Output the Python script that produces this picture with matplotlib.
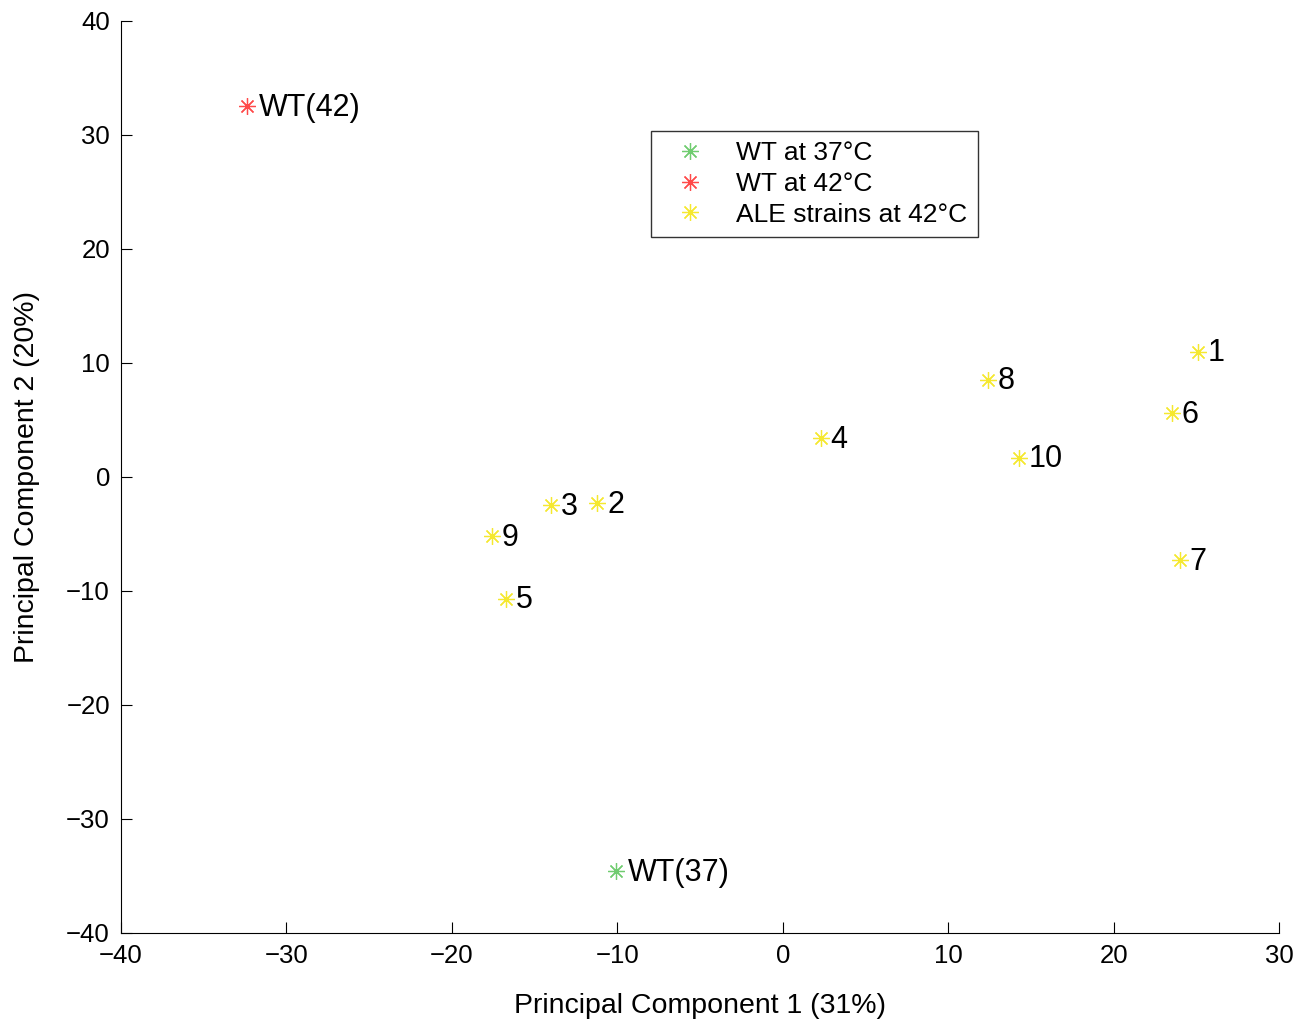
import numpy as np
import matplotlib
matplotlib.use("Agg")
import matplotlib.pyplot as plt

plt.rcParams['font.family'] = ['Liberation Sans', 'DejaVu Sans']

# ALE strains at 42C
ale_labels = ['1', '2', '3', '4', '5', '6', '7', '8', '9', '10']
ale_x = [25.1, -11.2, -14.0, 2.3, -16.7, 23.5, 24.0, 12.4, -17.6, 14.3]
ale_y = [11.0, -2.3, -2.5, 3.4, -10.7, 5.6, -7.3, 8.5, -5.2, 1.7]

# wild type
wt37_x, wt37_y = [-10.1], [-34.6]
wt42_x, wt42_y = [-32.4], [32.5]

green = '#70cc70'
red = '#ff4a4a'
yellow = '#f5e830'
star = (8, 2, 0)

fig = plt.figure(figsize=(13.07, 10.23), dpi=100)
ax = fig.add_axes([0.0926, 0.088, 0.886, 0.8915])

kw = dict(linestyle='none', marker=star, markersize=12, markeredgewidth=0.9)
ax.plot(wt37_x, wt37_y, color=green, label='WT at 37°C', **kw)
ax.plot(wt42_x, wt42_y, color=red, label='WT at 42°C', **kw)
ax.plot(ale_x, ale_y, color=yellow, label='ALE strains at 42°C', **kw)

ax.annotate('WT(37)', (wt37_x[0], wt37_y[0]), xytext=(9, -1), textcoords='offset points',
            va='center', ha='left', fontsize=22)
ax.annotate('WT(42)', (wt42_x[0], wt42_y[0]), xytext=(9, -1), textcoords='offset points',
            va='center', ha='left', fontsize=22)
for lab, x, y in zip(ale_labels, ale_x, ale_y):
    ax.annotate(lab, (x, y), xytext=(7, -1), textcoords='offset points',
                va='center', ha='left', fontsize=22)

ax.set_xlim(-40, 30)
ax.set_ylim(-40, 40)
ax.set_xticks(np.arange(-40, 31, 10))
ax.set_yticks(np.arange(-40, 41, 10))
ax.set_xticklabels([str(t).replace('-', '\u2212') for t in range(-40, 31, 10)])
ax.set_yticklabels([str(t).replace('-', '\u2212') for t in range(-40, 41, 10)])
ax.tick_params(direction='in', length=8, labelsize=18.5, pad=8)
ax.spines['top'].set_visible(False)
ax.spines['right'].set_visible(False)

ax.set_xlabel('Principal Component 1 (31%)', fontsize=20.5, labelpad=18)
ax.set_ylabel('Principal Component 2 (20%)', fontsize=20.5, labelpad=19)

leg = ax.legend(loc='upper left', bbox_to_anchor=(0.446, 0.894), fontsize=19,
                fancybox=False, edgecolor='#333333', framealpha=1,
                handletextpad=0.65, borderpad=0.4, labelspacing=0.25, handlelength=2.2)
leg.get_frame().set_linewidth(1.0)

fig.savefig('out.png', dpi=100)
